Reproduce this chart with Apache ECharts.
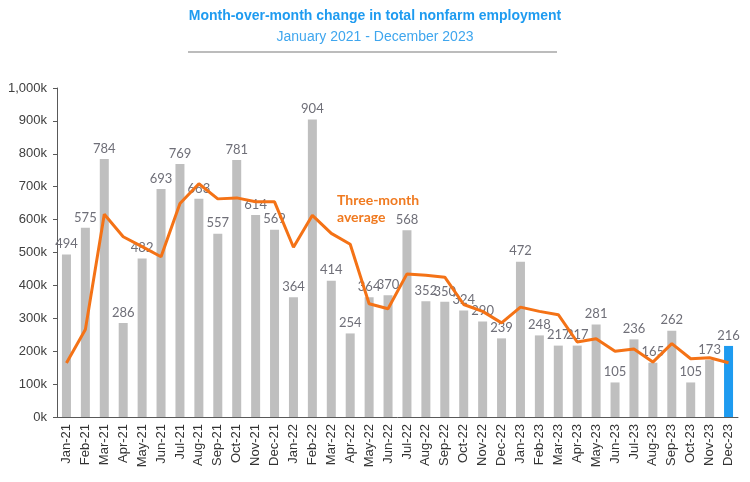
<!DOCTYPE html>
<html>
<head>
<meta charset="utf-8">
<script src="https://cdn.jsdelivr.net/npm/echarts@6/dist/echarts.min.js"></script>
<style>
  html, body { margin: 0; padding: 0; background: #fff; }
  #chart { width: 750px; height: 482px; }
</style>
</head>
<body>
<div id="chart"></div>
<script>
// months shown on the x axis
const months = [
  'Jan-21', 'Feb-21', 'Mar-21', 'Apr-21', 'May-21', 'Jun-21', 'Jul-21', 'Aug-21', 'Sep-21', 'Oct-21', 'Nov-21', 'Dec-21',
  'Jan-22', 'Feb-22', 'Mar-22', 'Apr-22', 'May-22', 'Jun-22', 'Jul-22', 'Aug-22', 'Sep-22', 'Oct-22', 'Nov-22', 'Dec-22',
  'Jan-23', 'Feb-23', 'Mar-23', 'Apr-23', 'May-23', 'Jun-23', 'Jul-23', 'Aug-23', 'Sep-23', 'Oct-23', 'Nov-23', 'Dec-23'
]

// monthly change, thousands
const monthlyChange = [
  494, 575, 784, 286, 482, 693, 769, 663, 557, 781, 614, 569,
  364, 904, 414, 254, 364, 370, 568, 352, 350, 324, 290, 239,
  472, 248, 217, 217, 281, 105, 236, 165, 262, 105, 173, 216
]

// three-month average, thousands
const threeMonthAvg = [
  164, 266, 616, 548, 518, 487, 649, 709, 663, 666, 654, 654,
  516, 613, 558, 525, 344, 329, 435, 431, 425, 342, 321, 286,
  334, 321, 311, 228, 238, 200, 207, 167, 223, 177, 180, 165
]

const yTicks = ['0k', '100k', '200k', '300k', '400k', '500k', '600k', '700k', '800k', '900k', '1,000k']

const chart = echarts.init(document.getElementById('chart'))

chart.setOption({
  backgroundColor: '#ffffff',
  animation: false,
  textStyle: { fontFamily: 'Liberation Sans, Arial, sans-serif' },
  graphic: [
    {
      type: 'text',
      left: 'center',
      top: 9,
      style: {
        text: 'Month-over-month change in total nonfarm employment',
        fontSize: 14,
        fontWeight: 'bold',
        fill: '#1E9BF0',
        fontFamily: 'Liberation Sans Narrow, Liberation Sans, Arial'
      }
    },
    {
      type: 'text',
      left: 'center',
      top: 30,
      style: {
        text: 'January 2021 - December 2023',
        fontSize: 14,
        fill: '#3FA6EE',
        fontFamily: 'Liberation Sans Narrow, Liberation Sans, Arial'
      }
    },
    {
      type: 'line',
      shape: { x1: 188, y1: 52, x2: 557, y2: 52 },
      style: { stroke: '#A6A6A6', lineWidth: 1.5 }
    },
    {
      type: 'text',
      left: 337,
      top: 192,
      style: {
        text: 'Three-month\naverage',
        fontSize: 14,
        lineHeight: 17,
        fontWeight: 'bold',
        fill: '#F07A20',
        fontFamily: 'Lato, sans-serif'
      }
    }
  ],
  grid: {
    left: 57,
    right: 12,
    top: 88,
    bottom: 65
  },
  xAxis: {
    type: 'category',
    data: months,
    axisLine: { lineStyle: { color: '#595959', width: 1 } },
    axisTick: { show: false },
    axisLabel: {
      rotate: 90,
      interval: 0,
      fontSize: 13,
      color: '#333333',
      margin: 7
    }
  },
  yAxis: {
    type: 'value',
    min: 0,
    max: 1000,
    interval: 100,
    splitLine: { show: false },
    axisLine: { show: true, lineStyle: { color: '#595959', width: 1 } },
    axisTick: { show: true, length: 4, lineStyle: { color: '#595959' } },
    axisLabel: {
      fontSize: 13,
      color: '#404040',
      margin: 10,
      formatter: (v) => yTicks[Math.round(v / 100)]
    }
  },
  series: [
    {
      name: 'Monthly change',
      type: 'bar',
      barWidth: 9,
      data: monthlyChange.map((v, i) => ({
        value: v,
        itemStyle: { color: i === monthlyChange.length - 1 ? '#1E9BF0' : '#BFBFBF' }
      })),
      label: {
        show: true,
        position: 'top',
        distance: 4,
        fontSize: 13,
        color: '#6F6F78',
        fontFamily: 'Lato, sans-serif'
      }
    },
    {
      name: 'Three-month average',
      type: 'line',
      data: threeMonthAvg,
      symbol: 'none',
      z: 5,
      lineStyle: { color: '#F47216', width: 3 }
    }
  ]
})
</script>
</body>
</html>
